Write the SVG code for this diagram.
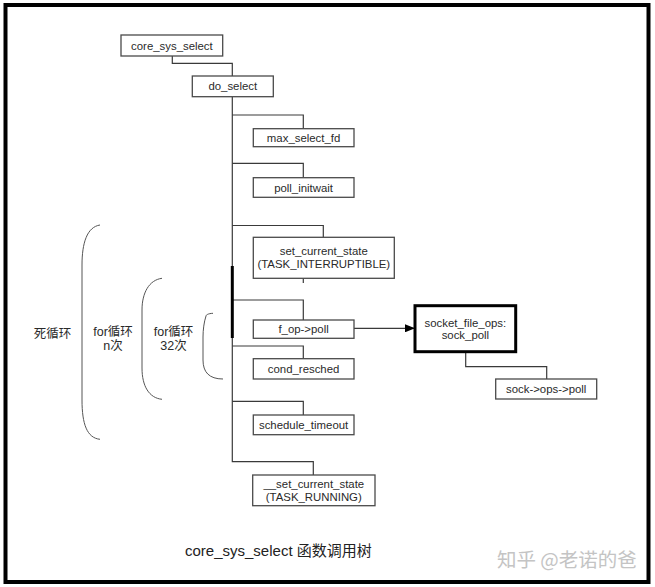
<svg xmlns="http://www.w3.org/2000/svg" width="655" height="587" viewBox="0 0 655 587">
<style>
.box{fill:#fff;stroke:#4a4a4a;stroke-width:1.3}
.bold{fill:#fff;stroke:#000;stroke-width:3}
.t{font-family:"Liberation Sans",Arial,sans-serif;font-size:11.4px;fill:#2a2a2a;text-anchor:middle}
.c{font-family:"Liberation Sans","Noto Sans CJK SC",sans-serif;font-size:12.5px;fill:#2a2a2a;text-anchor:middle}
.ln{fill:none;stroke:#3a3a3a;stroke-width:1.2}
.br{fill:none;stroke:#555;stroke-width:1}
</style>
<defs>
<marker id="ah" markerWidth="10" markerHeight="8" refX="9" refY="4" orient="auto" markerUnits="userSpaceOnUse">
<path d="M0,0 L10,4 L0,8 Z" fill="#000"/>
</marker>
</defs>
<rect x="0" y="0" width="655" height="587" fill="#fff"/>
<rect x="5.5" y="5" width="643" height="577" fill="none" stroke="#000" stroke-width="4"/>

<g id="connectors">
<path class="ln" d="M172.3,56 V63.3 H232.3 V76"/>
<path class="ln" d="M232.3,96.7 V461.7 H313.3 V475"/>
<path class="ln" d="M232.3,115 H303.3 V128.7"/>
<path class="ln" d="M232.3,163.3 H303.3 V177.7"/>
<path class="ln" d="M232.3,225.5 H323.3 V237.3"/>
<path class="ln" d="M303.3,278.3 V283"/>
<path class="ln" d="M232.3,300 H303.3 V320"/>
<path class="ln" d="M232.3,346 H303.3 V358.7"/>
<path class="ln" d="M232.3,401.3 H303.3 V415"/>
<line x1="232.3" y1="266" x2="232.3" y2="338" stroke="#000" stroke-width="3"/>
<line class="ln" x1="354" y1="328.3" x2="414" y2="328.3" marker-end="url(#ah)"/>
<path class="ln" d="M465.7,351.7 V366.7 H546.7 V379"/>
</g>

<g id="brackets">
<path class="br" d="M100,225 C87,227 82,243 82,265 L82,400 C82,424 87,438 100,439.3"/>
<path class="br" d="M162,278.3 C149,280 142,293 142,310 L142,368 C142,386 149,398 162,399.3"/>
<path class="br" d="M213,313.3 C208,313.5 206,315 206,316 C204,322 203,330 203,337 L203,360 C203,372 209,379 223,379"/>
</g>

<g id="labels">
<text class="c" x="52.5" y="337.5">死循环</text>
<text class="c" x="113" y="336">for循环</text>
<text class="c" x="113" y="350">n次</text>
<text class="c" x="173.5" y="336">for循环</text>
<text class="c" x="173.5" y="350">32次</text>
</g>

<g id="core_sys_select"><rect class="box" x="121" y="35" width="101.7" height="21"/><text class="t" x="171.9" y="49.5">core_sys_select</text></g>
<g id="do_select"><rect class="box" x="192.3" y="76" width="81" height="20.7"/><text class="t" x="232.8" y="90.3">do_select</text></g>
<g id="max_select_fd"><rect class="box" x="253.3" y="128.7" width="100.7" height="18"/><text class="t" x="303.6" y="141.7">max_select_fd</text></g>
<g id="poll_initwait"><rect class="box" x="253.3" y="177.7" width="100.7" height="19.6"/><text class="t" x="303.6" y="191.6">poll_initwait</text></g>
<g id="set_current_state"><rect class="box" x="253.3" y="237.3" width="141" height="41"/><text class="t" x="323.8" y="254.8">set_current_state</text><text class="t" x="323.8" y="268.3">(TASK_INTERRUPTIBLE)</text></g>
<g id="f_op_poll"><rect class="box" x="253.3" y="320" width="100.7" height="18.3"/><text class="t" x="303.6" y="333.3">f_op-&gt;poll</text></g>
<g id="cond_resched"><rect class="box" x="253.3" y="358.7" width="100.7" height="20.3"/><text class="t" x="303.6" y="373">cond_resched</text></g>
<g id="schedule_timeout"><rect class="box" x="253.3" y="415" width="100.7" height="19.7"/><text class="t" x="303.6" y="429">schedule_timeout</text></g>
<g id="set_current_state_running"><rect class="box" x="252.7" y="475" width="122.3" height="30.7"/><text class="t" x="313.8" y="487.5">__set_current_state</text><text class="t" x="313.8" y="501.3">(TASK_RUNNING)</text></g>
<g id="sock_poll"><rect class="bold" x="415" y="305.7" width="100.7" height="46"/><text class="t" x="465.4" y="326.8">socket_file_ops:</text><text class="t" x="465.4" y="339.3">sock_poll</text></g>
<g id="sock_ops_poll"><rect class="box" x="495.7" y="379" width="101" height="20"/><text class="t" x="546.2" y="393">sock-&gt;ops-&gt;poll</text></g>

<text x="185" y="556" font-family="'Liberation Sans','Noto Sans CJK SC',sans-serif" font-size="15" fill="#222">core_sys_select 函数调用树</text>
<text x="497" y="567" font-family="'Noto Sans CJK SC',sans-serif" font-size="19.5" fill="#c4c4c4">知乎 @老诺的爸</text>
</svg>
